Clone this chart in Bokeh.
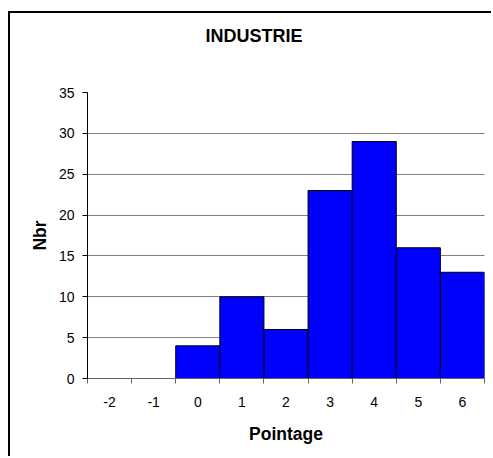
from bokeh.plotting import figure
from bokeh.embed import file_html
from bokeh.resources import INLINE
from bokeh.models import FixedTicker, ColumnDataSource, LinearAxis

categories = [-2, -1, 0, 1, 2, 3, 4, 5, 6]
counts = [0, 0, 4, 10, 6, 23, 29, 16, 13]
y_ticks = [0, 5, 10, 15, 20, 25, 30, 35]
title_text = "INDUSTRIE"

src = ColumnDataSource(dict(
    left=[c - 0.5 for c in categories],
    right=[c + 0.5 for c in categories],
    top=counts,
    bottom=[0] * len(categories),
))

FONT = "Liberation Sans"

p = figure(width=483, height=445, output_backend="svg", toolbar_location=None,
           x_range=(categories[0] - 0.5, categories[-1] + 0.5), y_range=(0, 35),
           min_border_left=77, min_border_right=9, min_border_top=79, min_border_bottom=80,
           title=title_text)
p.margin = (11, 0, 0, 8)
p.styles = {"border-left": "2px solid black", "border-top": "2px solid black"}
p.outline_line_color = None
p.background_fill_color = "white"
p.border_fill_color = "white"

p.quad(left="left", right="right", top="top", bottom="bottom", source=src,
       fill_color="#0000FF", line_color="black", line_width=1)

# invisible spacer axis between the title and the plot area
spacer = LinearAxis(ticker=FixedTicker(ticks=[categories[0]]), axis_line_color=None,
                    major_tick_line_color=None, minor_tick_line_color=None,
                    major_tick_out=42, major_tick_in=0, minor_tick_out=0,
                    major_label_standoff=0,
                    major_label_overrides={categories[0]: ""})
p.add_layout(spacer, "above")

p.title.align = "left"
p.title.offset = 118
p.title.standoff = 10
p.title.text_font = FONT
p.title.text_font_size = "18px"
p.title.text_font_style = "bold"
p.title.text_color = "black"

edges = [c - 0.5 for c in categories] + [categories[-1] + 0.5]
xa = p.below[0]
xa.ticker = FixedTicker(ticks=categories, minor_ticks=edges)
xa.major_tick_out = 0
xa.major_tick_in = 0
xa.minor_tick_out = 5
xa.minor_tick_in = 0
xa.minor_tick_line_color = "#666666"
xa.axis_line_color = "#666666"
xa.major_label_standoff = 13
xa.major_label_overrides = {c: str(c) for c in categories}
xa.axis_label = "Pointage"
xa.axis_label_standoff = 14

ya = p.left[0]
ya.ticker = FixedTicker(ticks=y_ticks)
ya.major_tick_out = 5
ya.major_tick_in = 0
ya.minor_tick_line_color = None
ya.axis_line_color = "black"
ya.major_tick_line_color = "black"
ya.major_label_standoff = 8
ya.axis_label = "Nbr"
ya.axis_label_standoff = 6

for ax in (xa, ya):
    ax.major_label_text_font = FONT
    ax.major_label_text_font_size = "14px"
    ax.major_label_text_color = "black"
    ax.axis_label_text_font = FONT
    ax.axis_label_text_font_size = "17.5px"
    ax.axis_label_text_font_style = "bold"
    ax.axis_label_text_color = "black"

p.xgrid.grid_line_color = None
p.ygrid.grid_line_color = "black"
p.ygrid.grid_line_dash = "1 1"
p.ygrid.grid_line_width = 1

open("out.html", "w").write(file_html(p, INLINE))
